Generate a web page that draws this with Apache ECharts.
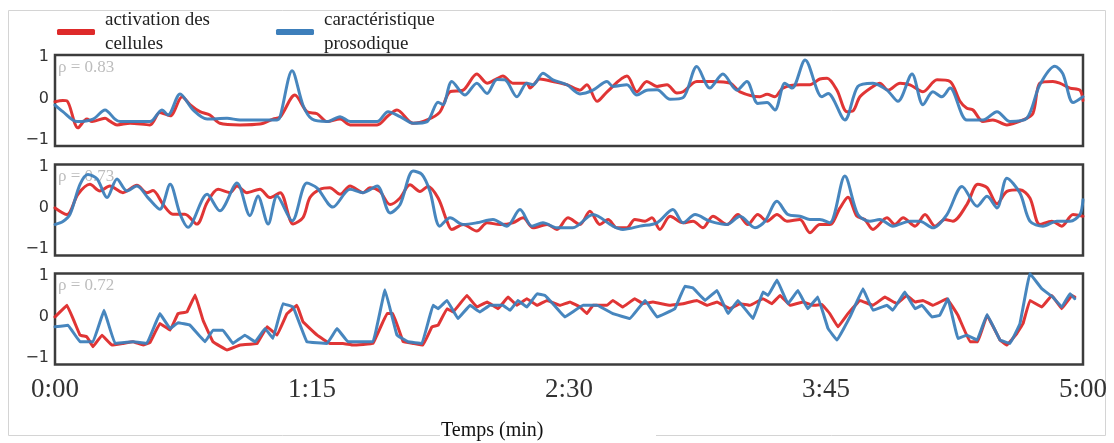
<!DOCTYPE html>
<html>
<head>
<meta charset="utf-8">
<script src="https://cdn.jsdelivr.net/npm/echarts@6/dist/echarts.min.js"></script>
<style>html,body{margin:0;padding:0;background:#fff}#c{width:1114px;height:443px}</style>
</head>
<body>
<div id="c"></div>
<script>
// ---- data (time in seconds, value) ----
const seriesNames = ['activation des\ncellules', 'caractéristique\nprosodique'];
const rhoLabels = ['ρ = 0.83', 'ρ = 0.73', 'ρ = 0.72'];
const xTickLabels = ['0:00', '1:15', '2:30', '3:45', '5:00'];
const yTickValues = [-1, 0, 1];
const xAxisTitle = 'Temps (min)';

const p1Red = [[0,-0.08],[2.3,-0.05],[3.5,-0.06],[6.7,-0.71],[9.3,-0.5],[10.8,-0.56],[14.6,-0.48],[16.0,-0.55],[18.1,-0.64],[21.9,-0.6],[27.7,-0.64],[30.6,-0.34],[33.6,-0.42],[37.1,0.04],[39.4,-0.15],[42.3,-0.32],[45.2,-0.4],[48.1,-0.6],[54.0,-0.64],[59.8,-0.62],[63.6,-0.5],[65.7,-0.45],[70.0,0.08],[73.5,-0.32],[76.5,-0.37],[79.4,-0.56],[83.2,-0.5],[86.1,-0.64],[94.0,-0.64],[97.2,-0.42],[99.8,-0.28],[104.5,-0.6],[108.6,-0.52],[112.3,-0.33],[115.3,0.16],[119.1,0.2],[123.1,0.59],[126.1,0.37],[129.0,0.48],[130.7,0.54],[133.6,0.37],[137.7,0.37],[138.6,0.25],[141.5,0.47],[145.3,0.41],[149.4,0.33],[153.2,0.2],[155.2,0.33],[158.2,-0.07],[161.1,0.16],[166.9,0.54],[169.8,0.16],[172.7,0.41],[175.7,0.29],[178.6,0.33],[181.5,0.13],[183.3,0.16],[187.3,0.41],[192.0,0.41],[197.0,0.37],[199.9,0.16],[205.7,0.04],[207.8,0.1],[210.1,0.04],[212.4,0.25],[217.4,0.33],[220.3,0.33],[223.2,0.47],[225.3,0.49],[228.2,0.2],[231.1,-0.32],[232.9,-0.3],[234.9,0.04],[238.7,0.29],[240.7,0.37],[243.1,0.2],[246.6,0.37],[249.5,0.33],[253.3,0.16],[257.4,0.45],[261.2,0.41],[264.1,-0.07],[266.1,-0.24],[267.9,-0.28],[270.8,-0.56],[273.7,-0.52],[277.8,-0.64],[282.5,-0.52],[285.4,-0.36],[287.4,0.37],[291.2,0.41],[293.2,0.37],[296.2,0.25],[299.1,0.2],[300,-0.05]];
const p1Blue = [[0,-0.16],[2.3,-0.32],[6.4,-0.56],[11.1,-0.5],[14.6,-0.28],[17.5,-0.5],[19.0,-0.56],[27.7,-0.56],[31.2,-0.28],[33.0,-0.4],[36.5,0.11],[40.3,-0.28],[44.4,-0.5],[50.2,-0.48],[54.0,-0.52],[64.8,-0.52],[65.7,-0.44],[69.2,0.67],[72.4,-0.17],[75.0,-0.5],[79.4,-0.56],[83.2,-0.44],[86.1,-0.56],[94.0,-0.56],[97.2,-0.32],[100.7,-0.44],[104.5,-0.6],[108.6,-0.56],[111.8,-0.09],[113.2,-0.15],[115.8,0.41],[119.6,0.08],[123.1,0.37],[126.1,0.12],[129.0,0.46],[131.3,0.45],[134.8,0.04],[137.7,0.37],[139.5,0.33],[142.4,0.61],[145.3,0.45],[149.4,0.33],[153.2,0.11],[157.0,0.2],[161.1,0.41],[162.8,0.29],[166.9,0.33],[169.8,0.08],[172.7,0.2],[175.7,0.21],[179.5,-0.02],[183.3,0.02],[187.3,0.77],[191.1,0.25],[194.9,0.59],[199.0,0.2],[201.9,0.41],[205.1,-0.12],[207.8,-0.1],[210.1,-0.28],[213.0,0.37],[215.1,0.25],[218.9,0.93],[223.8,0.04],[225.6,0.12],[230.5,-0.52],[234.3,0.29],[238.7,0.37],[242.8,0.2],[246.0,-0.07],[250.1,0.59],[253.3,-0.15],[256.2,0.16],[258.8,0.04],[261.2,0.25],[266.1,-0.52],[270.8,-0.52],[274.9,-0.32],[278.7,-0.56],[283.6,-0.48],[287.4,0.33],[291.8,0.78],[294.1,0.6],[297.1,-0.1],[300,0.04]];

const p2Red = [[0,0.0],[3.5,-0.16],[6.7,0.33],[10.2,0.57],[13.1,0.41],[16.0,0.53],[19.8,0.37],[23.9,0.55],[26.8,0.37],[28.6,0.42],[31.5,0.09],[34.4,-0.15],[37.9,-0.15],[41.4,-0.39],[44.4,0.13],[47.6,0.45],[51.1,0.37],[53.1,0.53],[56.0,0.37],[59.8,0.45],[62.7,0.25],[65.7,0.37],[69.5,-0.39],[72.4,-0.23],[74.4,0.25],[77.3,0.45],[80.2,0.49],[83.2,0.33],[86.1,0.53],[89.9,0.37],[91.9,0.49],[94.8,0.4],[97.8,0.08],[100.7,0.24],[103.6,0.56],[106.5,0.4],[108.8,0.52],[111.8,0.24],[114.4,-0.32],[115.8,-0.52],[119.1,-0.4],[123.1,-0.56],[126.1,-0.36],[129.9,-0.4],[133.6,-0.36],[136.6,-0.24],[139.5,-0.48],[143.6,-0.4],[146.5,-0.52],[149.7,-0.24],[153.2,-0.4],[156.1,-0.08],[159.0,-0.4],[161.4,-0.28],[164.0,-0.48],[166.9,-0.48],[169.2,-0.28],[172.2,-0.32],[174.2,-0.24],[176.5,-0.52],[179.5,-0.2],[183.3,-0.36],[186.2,-0.32],[189.1,-0.48],[192.0,-0.2],[196.1,-0.4],[199.3,-0.16],[202.2,-0.4],[205.1,-0.16],[207.8,-0.32],[210.7,-0.16],[213.6,-0.32],[217.4,-0.28],[220.3,-0.6],[223.2,-0.4],[226.1,-0.4],[229.1,0.0],[231.4,0.26],[234.0,-0.2],[236.3,-0.28],[238.7,-0.52],[242.8,-0.24],[245.1,-0.4],[247.5,-0.24],[251.0,-0.44],[253.9,-0.16],[256.8,-0.44],[259.7,-0.28],[262.0,-0.32],[266.1,0.08],[269.3,0.57],[272.0,0.49],[274.9,0.1],[277.8,0.4],[281.6,0.44],[284.5,0.24],[287.4,-0.4],[290.9,-0.32],[293.8,-0.44],[297.1,-0.16],[300,-0.2]];
const p2Blue = [[0,-0.4],[2.3,-0.33],[4.4,-0.15],[7.3,0.57],[9.6,0.81],[12.3,0.7],[15.2,0.25],[18.1,0.7],[21.0,0.41],[23.9,0.53],[27.1,0.25],[30.6,-0.03],[33.6,0.57],[36.5,-0.15],[38.8,-0.47],[44.4,0.33],[48.1,-0.07],[53.1,0.6],[56.9,-0.19],[59.2,0.29],[62.2,-0.39],[64.8,0.29],[69.2,-0.31],[73.5,0.6],[76.5,0.48],[81.1,0.02],[86.1,0.45],[89.9,0.37],[94.0,0.53],[97.8,-0.12],[100.7,0.08],[104.5,0.89],[107.1,0.81],[109.4,0.41],[112.3,-0.44],[115.3,-0.24],[119.1,-0.4],[123.1,-0.36],[127.8,-0.28],[131.9,-0.44],[135.7,-0.04],[139.2,-0.44],[142.4,-0.36],[146.5,-0.48],[151.1,-0.48],[157.0,-0.16],[162.8,-0.44],[165.7,-0.52],[170.7,-0.44],[175.7,-0.36],[180.3,-0.04],[183.3,-0.36],[186.8,-0.16],[191.1,-0.32],[196.1,-0.4],[199.9,-0.2],[204.3,-0.48],[207.2,-0.32],[210.7,0.16],[213.9,-0.16],[217.4,-0.2],[220.3,-0.28],[223.2,-0.28],[226.1,-0.36],[230.5,0.77],[234.3,-0.16],[237.8,-0.32],[240.7,-0.28],[244.5,-0.44],[249.5,-0.32],[252.4,-0.32],[256.2,-0.48],[260.3,-0.16],[264.7,0.52],[269.1,0.04],[272.0,0.28],[274.9,0.0],[277.8,0.72],[281.6,0.36],[284.5,-0.32],[288.3,-0.44],[292.4,-0.32],[296.2,-0.32],[299.1,-0.16],[300,0.2]];

const p3Red = [[0,0.0],[3.5,0.28],[7.3,-0.44],[9.3,-0.48],[11.1,-0.72],[13.7,-0.44],[16.6,-0.68],[19.8,-0.64],[22.8,-0.6],[25.7,-0.68],[27.7,-0.62],[30.6,-0.16],[33.6,-0.32],[35.9,0.08],[38.5,0.12],[40.9,0.53],[43.2,-0.08],[46.1,-0.6],[50.2,-0.8],[54.0,-0.68],[59.0,-0.64],[61.9,-0.24],[64.8,-0.44],[67.7,0.08],[70.6,0.28],[72.4,-0.12],[76.5,-0.44],[80.2,-0.64],[84.0,-0.64],[87.0,-0.68],[92.8,-0.64],[96.9,0.08],[98.6,0.08],[101.6,-0.6],[104.5,-0.64],[107.4,-0.68],[110.0,-0.24],[111.8,-0.2],[114.4,0.2],[116.2,0.12],[120.2,0.52],[123.1,0.24],[126.1,0.36],[129.3,0.2],[132.2,0.48],[134.8,0.28],[137.7,0.44],[140.7,0.28],[143.6,0.4],[147.4,0.28],[150.3,0.36],[153.2,0.24],[155.2,0.08],[157.0,0.28],[161.1,0.28],[162.8,0.4],[165.7,0.24],[169.2,0.44],[171.6,0.32],[174.5,0.36],[179.5,0.28],[183.3,0.32],[187.3,0.4],[190.3,0.28],[193.2,0.36],[197.0,0.2],[199.9,0.32],[202.8,0.28],[206.6,0.44],[209.2,0.32],[211.6,0.52],[214.5,0.28],[218.3,0.36],[221.2,0.28],[223.8,0.3],[226.1,0.08],[228.5,-0.24],[231.4,0.08],[234.9,0.4],[238.7,0.28],[242.2,0.48],[245.7,0.32],[248.6,0.52],[251.0,0.36],[253.3,0.4],[256.2,0.28],[260.3,0.44],[263.5,0.04],[267.0,-0.6],[269.3,-0.6],[272.0,0.04],[275.8,-0.56],[277.8,-0.68],[280.7,-0.4],[282.5,-0.16],[284.5,0.4],[288.0,0.24],[290.9,0.52],[293.8,0.2],[296.8,0.52],[297.6,0.48]];
const p3Blue = [[0,-0.24],[3.8,-0.2],[7.3,-0.6],[11.1,-0.6],[14.3,0.16],[17.5,-0.64],[22.8,-0.6],[26.8,-0.64],[30.6,0.08],[33.6,-0.28],[35.9,-0.14],[39.4,-0.2],[43.8,-0.6],[46.1,-0.32],[49.0,-0.32],[51.9,-0.64],[55.4,-0.44],[58.4,-0.6],[61.3,-0.28],[63.6,-0.52],[66.5,0.32],[69.5,0.24],[73.5,-0.6],[79.4,-0.64],[82.3,-0.28],[85.5,-0.6],[92.8,-0.6],[96.3,0.66],[99.8,-0.44],[103.0,-0.6],[107.1,-0.64],[110.3,0.28],[111.8,0.2],[114.4,0.4],[117.6,-0.04],[121.1,0.28],[124.0,0.12],[126.9,0.28],[130.7,0.28],[132.8,0.16],[135.1,0.4],[137.7,0.24],[140.7,0.56],[143.0,0.52],[145.3,0.32],[148.8,0.0],[154.1,0.28],[158.2,0.28],[162.8,0.08],[167.8,-0.04],[172.2,0.4],[175.7,0.0],[180.9,0.2],[183.8,0.74],[186.2,0.7],[189.7,0.4],[193.2,0.64],[196.4,0.08],[199.3,0.4],[203.7,-0.04],[206.6,0.6],[208.1,0.52],[210.7,0.89],[213.9,0.32],[216.8,0.64],[219.7,0.2],[222.6,0.48],[225.6,-0.28],[228.2,-0.56],[232.0,0.0],[235.8,0.68],[238.7,0.16],[242.8,0.28],[244.5,0.16],[248.0,0.6],[251.0,0.2],[253.0,0.28],[255.9,0.0],[258.2,0.04],[260.6,0.44],[263.5,-0.52],[266.1,-0.44],[269.1,-0.56],[272.0,0.06],[275.8,-0.56],[278.7,-0.64],[281.6,-0.16],[284.5,1.05],[288.0,0.68],[291.2,0.48],[293.8,0.24],[296.2,0.56],[297.6,0.44]];

const panels = [[p1Red, p1Blue], [p2Red, p2Blue], [p3Red, p3Blue]];

// ---- layout / style ----
const RED = '#de2a2a', BLUE = '#3d7fbb';
const gridTops = [55, 164.5, 273.5];
const gridH = 91, gridL = 55, gridW = 1028;
const smoothness = [0.3, 0.3, 0.05];

const chart = echarts.init(document.getElementById('c'), null, {renderer: 'canvas'});
const grids = [], xAxes = [], yAxes = [], series = [], graphics = [];

graphics.push({type: 'rect', z: -10, shape: {x: 8.5, y: 10.5, width: 1097, height: 425}, style: {fill: 'none', stroke: '#d4d4d4', lineWidth: 1}});
graphics.push({type: 'rect', z: -9, shape: {x: 440, y: 400, width: 216, height: 43}, style: {fill: '#fff', stroke: 'none'}});

panels.forEach((pair, i) => {
  grids.push({left: gridL, top: gridTops[i], width: gridW, height: gridH, show: true, borderColor: '#3c3c3c', borderWidth: 2.5, backgroundColor: 'transparent'});
  const last = i === panels.length - 1;
  xAxes.push({
    gridIndex: i, type: 'value', min: 0, max: 300, interval: 75,
    axisLine: {show: false}, axisTick: {show: false}, splitLine: {show: false},
    axisLabel: last ? {show: true, margin: 12, fontFamily: 'Liberation Serif', fontSize: 27, color: '#333',
      formatter: v => xTickLabels[Math.round(v / 75)]} : {show: false}
  });
  yAxes.push({
    gridIndex: i, type: 'value', min: -1.15, max: 1.05,
    axisLine: {show: false}, axisTick: {show: false}, splitLine: {show: false},
    axisLabel: {show: true, customValues: yTickValues, margin: 6, fontFamily: 'DejaVu Sans', fontSize: 16, color: '#333',
      formatter: v => (v < 0 ? '\u2212' + Math.abs(v) : String(v))}
  });
  pair.forEach((data, k) => {
    series.push({
      name: seriesNames[k], type: 'line', xAxisIndex: i, yAxisIndex: i, data: data,
      showSymbol: false, symbol: 'none', smooth: smoothness[i], color: k === 0 ? RED : BLUE,
      lineStyle: {width: 3, color: k === 0 ? RED : BLUE, opacity: 0.95, cap: 'round', join: 'round'},
      z: 3 + k, animation: false
    });
  });
  graphics.push({type: 'text', z: 1, left: gridL + 3, top: gridTops[i] + 4,
    style: {text: rhoLabels[i], fontFamily: 'Liberation Serif', fontSize: 17, fill: '#bdbdbd'}});
});

graphics.push({type: 'text', left: 441, top: 421, style: {text: xAxisTitle, fontFamily: 'Liberation Serif', fontSize: 20, fill: '#111'}});

chart.setOption({
  backgroundColor: '#fff',
  animation: false,
  legend: {
    data: seriesNames, left: 52, top: 3, itemWidth: 38, itemHeight: 6, itemGap: 66, icon: 'roundRect',
    textStyle: {fontFamily: 'Liberation Serif', fontSize: 19, color: '#222', lineHeight: 24, padding: [0, 0, 0, 5]},
    selectedMode: false
  },
  grid: grids, xAxis: xAxes, yAxis: yAxes, series: series, graphic: graphics
});
</script>
</body>
</html>
